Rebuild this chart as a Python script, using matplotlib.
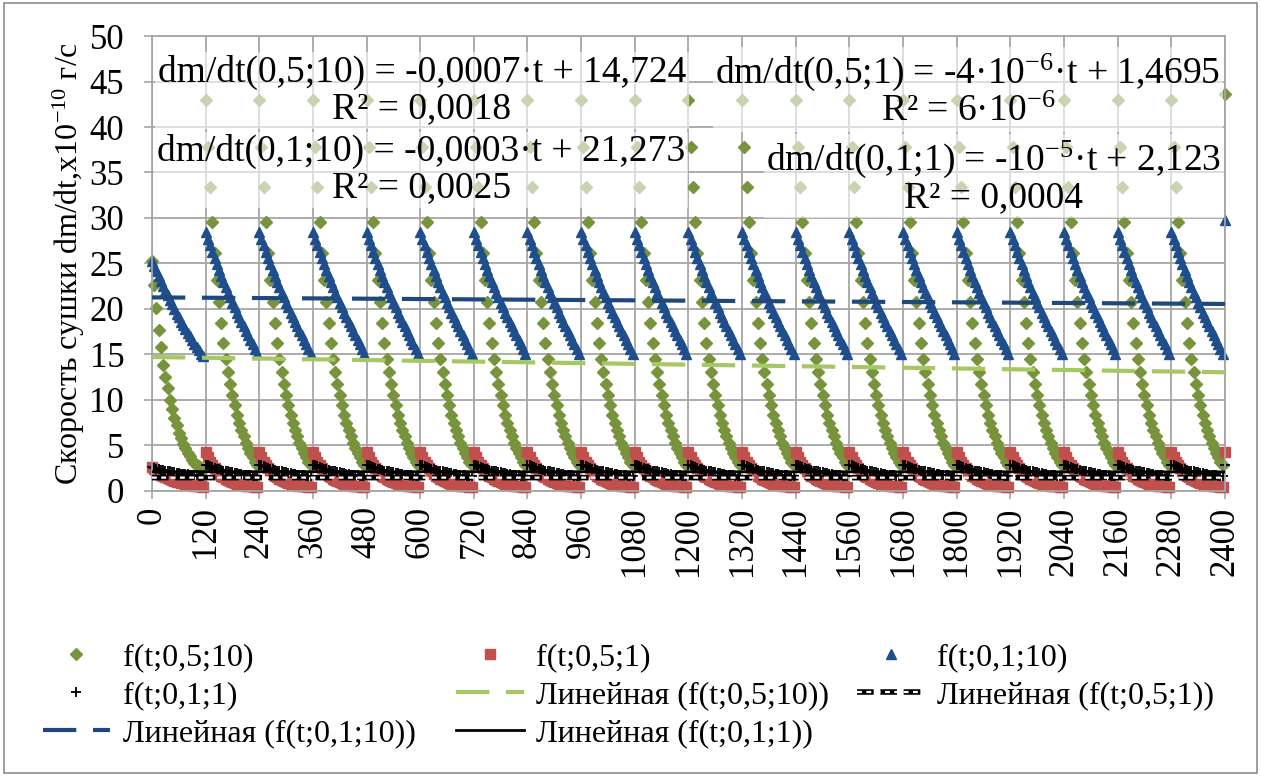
import numpy as np
import matplotlib
matplotlib.use("Agg")
import matplotlib.pyplot as plt
from matplotlib.lines import Line2D
from matplotlib.patches import Rectangle

plt.rcParams['font.family'] = ['Liberation Serif', 'DejaVu Serif']
plt.rcParams['mathtext.fontset'] = 'custom'
plt.rcParams['mathtext.rm'] = 'Liberation Serif'
plt.rcParams['mathtext.it'] = 'Liberation Serif:italic'

# time axis: 20 cycles of 120 s, sampled every 5 s
t = np.arange(0, 2401, 5)
n_cycles = 20

# one cycle of each series (first cycle differs from the rest)
green_first = [25.3, 22.6, 20.1, 17.7, 15.8, 13.8, 12.5, 11.3, 10.0, 9.0, 8.0, 7.2,
               6.4, 5.8, 5.2, 4.7, 4.2, 3.8, 3.4, 3.1, 2.9, 2.7, 2.5, 2.3]
green_cycle = [43.0, 37.8, 33.4, 29.6, 26.1, 23.2, 20.8, 18.5, 16.3, 14.5, 13.1, 11.8,
               10.5, 9.4, 8.4, 7.5, 6.7, 6.0, 5.3, 4.7, 4.2, 3.7, 3.2, 2.8]
red_first = [2.6, 2.4, 2.2, 2.0, 1.8, 1.65, 1.5, 1.4, 1.3, 1.2, 1.1, 1.0,
             0.95, 0.9, 0.85, 0.8, 0.75, 0.7, 0.65, 0.6, 0.55, 0.5, 0.5, 0.45]
red_cycle = [4.3, 3.7, 3.2, 2.8, 2.5, 2.2, 1.9, 1.7, 1.5, 1.35, 1.2, 1.1,
             1.0, 0.9, 0.8, 0.75, 0.7, 0.65, 0.6, 0.55, 0.5, 0.5, 0.45, 0.45]
blue_first = [25.3, 24.7, 24.2, 23.6, 23.1, 22.5, 22.0, 21.5, 21.0, 20.5, 20.0, 19.5,
              19.1, 18.6, 18.2, 17.8, 17.4, 17.0, 16.6, 16.2, 15.8, 15.5, 15.1, 14.8]
blue_cycle = [28.5, 27.7, 27.0, 26.3, 25.6, 24.9, 24.3, 23.6, 23.0, 22.4, 21.8, 21.3,
              20.7, 20.2, 19.6, 19.1, 18.6, 18.1, 17.6, 17.1, 16.6, 16.1, 15.6, 15.0]
black_first = [2.6, 2.5, 2.45, 2.4, 2.35, 2.3, 2.25, 2.2, 2.15, 2.1, 2.05, 2.0,
               1.95, 1.9, 1.88, 1.85, 1.82, 1.8, 1.77, 1.75, 1.72, 1.7, 1.68, 1.65]
black_cycle = [2.9, 2.8, 2.7, 2.6, 2.5, 2.45, 2.4, 2.3, 2.25, 2.2, 2.15, 2.1,
               2.05, 2.0, 1.95, 1.9, 1.85, 1.8, 1.78, 1.75, 1.72, 1.7, 1.68, 1.65]
# values at t = 2400
last_vals = {'green': 43.6, 'red': 4.3, 'blue': 29.8, 'black': 2.8}

# linear trend coefficients (slope, intercept)
trend_green = (-0.0007, 14.724)
trend_red = (-4e-6, 1.4695)
trend_blue = (-0.0003, 21.273)
trend_black = (-1e-5, 2.123)


def build(first, cycle, last):
    return np.concatenate([first] + [cycle] * (n_cycles - 1) + [[last]])


y_green = build(green_first, green_cycle, last_vals['green'])
y_red = build(red_first, red_cycle, last_vals['red'])
y_blue = build(blue_first, blue_cycle, last_vals['blue'])
y_black = build(black_first, black_cycle, last_vals['black'])

c_green = '#77933C'
c_green_tr = '#A5C862'
c_red = '#C0504D'
c_blue = '#1F4E8C'
c_blue_tr = '#1F497D'
c_grid = '#A6A6A6'

mk_green = dict(ls='none', marker='D', ms=6.3, color=c_green)
mk_red = dict(ls='none', marker='s', ms=6.5, color=c_red)
mk_blue = dict(ls='none', marker='^', ms=7, color=c_blue)
mk_black = dict(ls='none', marker='+', ms=7.5, mew=1.3, color='black')
ln_green = dict(color=c_green_tr, lw=3, dashes=(8, 4))
ln_red_out = dict(color='black', lw=4, dashes=(3, 1.2))
ln_red_in = dict(color='white', lw=1.6, dashes=(2.2, 2.0))
ln_blue = dict(color=c_blue_tr, lw=3, dashes=(8, 4))
ln_black = dict(color='black', lw=2)

fig = plt.figure(figsize=(12.61, 7.76), dpi=100)
ax = fig.add_axes([0.1205, 0.3673, 0.8509, 0.5863])

ax.plot(t, y_green, clip_on=False, zorder=2, **mk_green)
ax.plot(t, y_red, clip_on=False, zorder=2, **mk_red)
ax.plot(t, y_blue, clip_on=False, zorder=2, **mk_blue)
ax.plot(t, y_black, clip_on=False, zorder=2, **mk_black)

tl = np.array([0, 2400])
ax.plot(tl, trend_green[0] * tl + trend_green[1], zorder=3, **ln_green)
ax.plot(tl, trend_red[0] * tl + trend_red[1], zorder=3, **ln_red_out)
ax.plot(tl, trend_red[0] * tl + trend_red[1], zorder=3, **ln_red_in)
ax.plot(tl, trend_blue[0] * tl + trend_blue[1], zorder=3, **ln_blue)
ax.plot(tl, trend_black[0] * tl + trend_black[1], zorder=3, **ln_black)

ax.set_xlim(0, 2400)
ax.set_ylim(0, 50)
ax.set_xticks(np.arange(0, 2401, 120))
ax.set_yticks(np.arange(0, 51, 5))
ax.tick_params(axis='x', labelrotation=90, pad=5)
ax.tick_params(axis='y', pad=14)
ax.tick_params(labelsize=25, color=c_grid, length=6, width=1.2)
ax.grid(True, color=c_grid, lw=1.3)
ax.set_axisbelow(True)
for s in ax.spines.values():
    s.set_color(c_grid)
    s.set_linewidth(1.3)

ax.set_ylabel('Скорость сушки dm/dt,x10$^{-10}$ г/с', fontsize=23, labelpad=2)

# trendline equations on translucent boxes
box = dict(facecolor='white', alpha=0.6, edgecolor='none', pad=2)
eq_kw = dict(ha='center', va='center', fontsize=27, linespacing=1.05, bbox=box, zorder=5)
ax.text(604, 44.0, 'dm/dt(0,5;10) = -0,0007·t + 14,724\nR² = 0,0018', **eq_kw)
ax.text(602, 35.3, 'dm/dt(0,1;10) = -0,0003·t + 21,273\nR² = 0,0025', **eq_kw)
ax.text(1825, 44.0, 'dm/dt(0,5;1) = -4·10$^{-6}$·t + 1,4695\nR² = 6·10$^{-6}$', **eq_kw)
ax.text(1883, 34.5, 'dm/dt(0,1;1) = -10$^{-5}$·t + 2,123\nR² = 0,0004', **eq_kw)

# legend: three columns of equal width
h_green = Line2D([], [], **mk_green)
h_red = Line2D([], [], **mk_red)
h_blue = Line2D([], [], **mk_blue)
h_black = Line2D([], [], **mk_black)
h_tr_green = Line2D([], [], **ln_green)
h_tr_red = (Line2D([], [], **ln_red_out), Line2D([], [], **ln_red_in))
h_tr_blue = Line2D([], [], **ln_blue)
h_tr_black = Line2D([], [], **ln_black)

columns = [
    ([h_green, h_black, h_tr_blue],
     ['f(t;0,5;10)', 'f(t;0,1;1)', 'Линейная (f(t;0,1;10))'], 0.034),
    ([h_red, h_tr_green, h_tr_black],
     ['f(t;0,5;1)', 'Линейная (f(t;0,5;10))', 'Линейная (f(t;0,1;1))'], 0.362),
    ([h_blue, h_tr_red],
     ['f(t;0,1;10)', 'Линейная (f(t;0,5;1))'], 0.680),
]
for hs, ls, x0 in columns:
    fig.legend(hs, ls, loc='upper left', bbox_to_anchor=(x0, 0.172),
               frameon=False, fontsize=23, handlelength=2.1, handletextpad=0.4,
               labelspacing=0.28, borderpad=0, borderaxespad=0)

fig.patches.append(Rectangle((0.003, 0.004), 0.994, 0.992, transform=fig.transFigure,
                             fill=False, edgecolor='#8C8C8C', lw=1.2))

fig.savefig('out.png', dpi=100)
